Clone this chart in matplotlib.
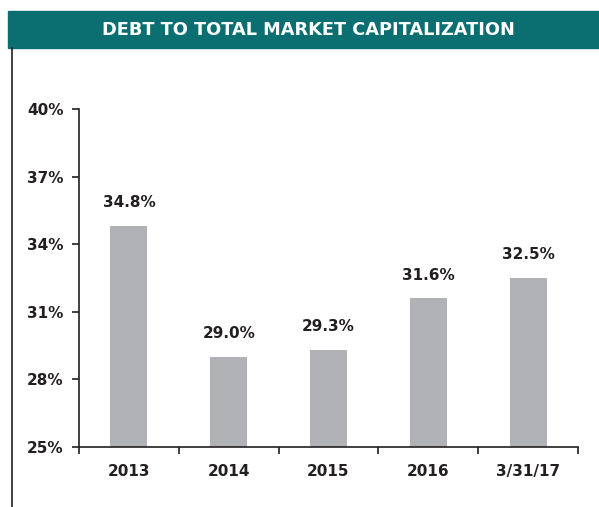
import matplotlib.pyplot as plt
import matplotlib.patches as mpatches
from matplotlib.lines import Line2D

categories = ["2013", "2014", "2015", "2016", "3/31/17"]
values = [34.8, 29.0, 29.3, 31.6, 32.5]
yticks = [25, 28, 31, 34, 37, 40]

TEAL = "#0b6e70"
BAR = "#b1b2b6"
INK = "#231f20"

plt.rcParams['font.family'] = ['DejaVu Sans']

fig = plt.figure(figsize=(5.99, 5.07), dpi=100)

# title band
fig.patches.append(mpatches.Rectangle((8 / 599, 1 - 48 / 507), 1, 37 / 507,
                                      transform=fig.transFigure, color=TEAL, zorder=0))
fig.text(308 / 599, 1 - 30 / 507, "DEBT TO TOTAL MARKET CAPITALIZATION", color="white",
         fontsize=12.8, fontweight="bold", ha="center", va="center")
# left border line
fig.lines.append(Line2D([11.5 / 599, 11.5 / 599], [1 - 48 / 507, 0],
                        transform=fig.transFigure, color=INK, lw=1.2))

ax = fig.add_axes([79 / 599, 1 - 447 / 507, (578 - 79) / 599, (447 - 109) / 507])
x = range(len(categories))
ax.bar(x, [v - 25 for v in values], bottom=25, width=0.37, color=BAR, zorder=2)
for i, v in enumerate(values):
    ax.text(i, v + 0.7, f"{v:.1f}%", ha="center", va="bottom",
            fontsize=11, fontweight="bold", color=INK)

ax.set_ylim(25, 40)
ax.set_xlim(-0.5, len(categories) - 0.5)
ax.set_yticks(yticks)
ax.set_yticklabels([f"{t}%" for t in yticks], fontsize=11, fontweight="bold", color=INK)
ax.set_xticks([i - 0.5 for i in range(len(categories) + 1)])
ax.set_xticklabels([])
ax.set_xticks(list(x), minor=True)
ax.set_xticklabels(categories, minor=True, fontsize=11, fontweight="bold", color=INK)
ax.tick_params(axis="x", which="minor", length=0, pad=12)
ax.tick_params(axis="x", which="major", length=5, width=1.2, color=INK, direction="out")
ax.tick_params(axis="y", length=5, width=1.2, color=INK, direction="out", pad=6)
for s in ["top", "right"]:
    ax.spines[s].set_visible(False)
for s in ["left", "bottom"]:
    ax.spines[s].set_color(INK)
    ax.spines[s].set_linewidth(1.2)

fig.savefig("out.png", dpi=100)
